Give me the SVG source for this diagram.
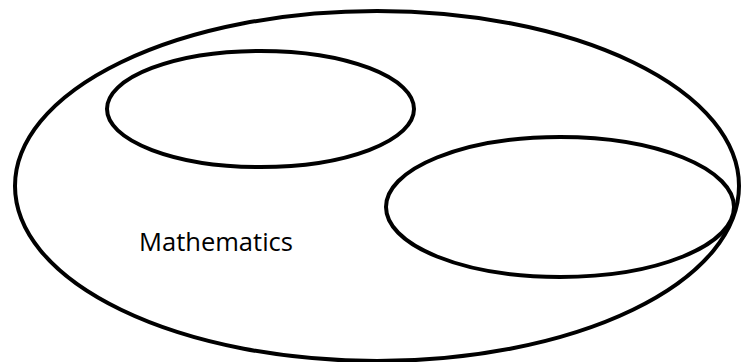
<svg xmlns="http://www.w3.org/2000/svg" width="741" height="362" viewBox="0 0 741 362">
<style>
.set{fill:none;stroke:#000;stroke-width:4}
.lbl{font-family:"Open Sans","Liberation Sans",sans-serif;font-size:25px;fill:#000}
</style>
<rect width="741" height="362" fill="#fff"/>
<g id="mathematics">
<ellipse class="set" cx="377" cy="186" rx="362" ry="175"/>
<text class="lbl" x="139" y="251" textLength="154" lengthAdjust="spacingAndGlyphs">Mathematics</text>
</g>
<g id="subset1">
<ellipse class="set" cx="260.5" cy="109" rx="153.5" ry="58"/>
</g>
<g id="subset2">
<ellipse class="set" cx="560" cy="207" rx="174" ry="70"/>
</g>
<g id="connectors"></g>
</svg>
